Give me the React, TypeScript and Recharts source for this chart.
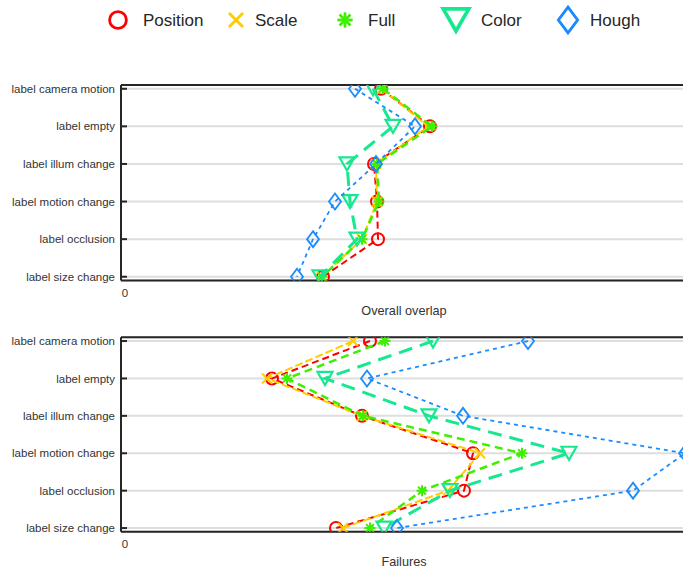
import React from 'react';
import { ScatterChart, Scatter, XAxis, YAxis, CartesianGrid, ReferenceLine } from 'recharts';

const categories = [
  'label camera motion',
  'label empty',
  'label illum change',
  'label motion change',
  'label occlusion',
  'label size change',
];

const seriesNames = ['Position', 'Scale', 'Full', 'Color', 'Hough'];

// Overall overlap panel
const overlapPosition = [256, 305, 249, 252, 253, 198];
const overlapScale = [257, 303, 251, 252, 237, 197];
const overlapFull = [258, 307, 252, 254, 237, 197];
const overlapColor = [248, 268, 222, 225, 232, 195];
const overlapHough = [230, 290, 251, 210, 188, 172];

// Failures panel
const failPosition = [245, 147, 237, 348, 339, 211];
const failScale = [228, 142, 237, 355, 323, 218];
const failFull = [260, 162, 238, 397, 297, 245];
const failColor = [308, 200, 304, 444, 325, 259];
const failHough = [403, 242, 338, 560, 508, 272];

const xTicks = [0];
const yTicks = [0, 1, 2, 3, 4, 5];

const FONT = '"Liberation Sans", Arial, Helvetica, sans-serif';

type Kind = 'circle' | 'x' | 'asterisk' | 'triangle' | 'diamond';

const styles: { kind: Kind; color: string; width: number; dash: string }[] = [
  { kind: 'circle', color: '#ff0000', width: 2, dash: '7 4' },
  { kind: 'x', color: '#ffcc00', width: 2, dash: '8 3' },
  { kind: 'asterisk', color: '#3cf000', width: 2.5, dash: '8 5' },
  { kind: 'triangle', color: '#17e890', width: 3, dash: '14 8' },
  { kind: 'diamond', color: '#1a8cff', width: 1.8, dash: '4 4' },
];

function Marker({ kind, cx, cy, color, s }: { kind: Kind; cx: number; cy: number; color: string; s: number }) {
  if (kind === 'circle') {
    return <circle cx={cx} cy={cy} r={6 * s} fill="none" stroke={color} strokeWidth={2 * s} />;
  }
  if (kind === 'x') {
    const d = 5 * s;
    return (
      <g stroke={color} strokeWidth={2 * s}>
        <line x1={cx - d} y1={cy - d} x2={cx + d} y2={cy + d} />
        <line x1={cx - d} y1={cy + d} x2={cx + d} y2={cy - d} />
      </g>
    );
  }
  if (kind === 'asterisk') {
    const d = 5.5 * s;
    const e = d * 0.707;
    return (
      <g stroke={color} strokeWidth={2 * s}>
        <line x1={cx - d} y1={cy} x2={cx + d} y2={cy} />
        <line x1={cx} y1={cy - d} x2={cx} y2={cy + d} />
        <line x1={cx - e} y1={cy - e} x2={cx + e} y2={cy + e} />
        <line x1={cx - e} y1={cy + e} x2={cx + e} y2={cy - e} />
      </g>
    );
  }
  if (kind === 'triangle') {
    const w = 7.5 * s;
    const h = 6.5 * s;
    return (
      <polygon
        points={`${cx - w},${cy - h} ${cx + w},${cy - h} ${cx},${cy + h}`}
        fill="none"
        stroke={color}
        strokeWidth={2.2 * s}
        strokeLinejoin="miter"
      />
    );
  }
  const w = 6 * s;
  const h = 8 * s;
  return (
    <polygon
      points={`${cx},${cy - h} ${cx + w},${cy} ${cx},${cy + h} ${cx - w},${cy}`}
      fill="none"
      stroke={color}
      strokeWidth={1.8 * s}
    />
  );
}

const YTick = (props: any) => {
  const { x, y, payload } = props;
  return (
    <g>
      <text x={x} y={y} dy="0.355em" textAnchor="end" fontSize={11.5} fill="#333" fontFamily={FONT}>
        {categories[payload.value]}
      </text>
      <line x1={x + 6} x2={x + 12} y1={y} y2={y} stroke="#262626" strokeWidth={2} />
    </g>
  );
};

function Panel({
  values,
  title,
  top,
  height,
  marginTop,
  marginBottom,
}: {
  values: number[][];
  title: string;
  top: number;
  height: number;
  marginTop: number;
  marginBottom: number;
}) {
  return (
    <div style={{ position: 'absolute', left: 0, top, width: 700, height }}>
      <ScatterChart
        width={700}
        height={height}
        margin={{ top: marginTop, right: 13, bottom: marginBottom, left: 0 }}
      >
        <CartesianGrid horizontal vertical={false} stroke="#dedede" strokeWidth={2} />
        <XAxis
          type="number"
          dataKey="x"
          domain={[-4, 562]}
          ticks={xTicks}
          allowDataOverflow
          height={20}
          tickSize={4}
          tickMargin={4}
          tickLine={false}
          axisLine={{ stroke: '#262626', strokeWidth: 2 }}
          tick={{ fontSize: 11.5, fill: '#333', fontFamily: FONT }}
          label={{ value: title, position: 'bottom', offset: 5, fontSize: 12.7, fill: '#333', fontFamily: FONT }}
        />
        <YAxis
          type="number"
          dataKey="y"
          domain={[-0.1, 5.1]}
          ticks={yTicks}
          reversed
          allowDataOverflow
          width={121}
          tickSize={6}
          tickMargin={0}
          tickLine={false}
          axisLine={{ stroke: '#262626', strokeWidth: 2 }}
          tick={<YTick />}
          interval={0}
        />
        <ReferenceLine y={-0.1} stroke="#262626" strokeWidth={2} />
        {values.map((vals, si) => {
          const st = styles[si];
          const data = vals.map((v, i) => ({ x: v, y: i }));
          return (
            <Scatter
              key={seriesNames[si]}
              name={seriesNames[si]}
              data={data}
              isAnimationActive={false}
              lineType="joint"
              line={{ stroke: st.color, strokeWidth: st.width, strokeDasharray: st.dash, fill: 'none' }}
              shape={(p: any) => <Marker kind={st.kind} cx={p.cx} cy={p.cy} color={st.color} s={1} />}
            />
          );
        })}
      </ScatterChart>
    </div>
  );
}

const legendMarkerX = [118, 236, 345, 456, 568];
const legendTextX = [143, 255, 368, 481, 590];

function Legend() {
  return (
    <div style={{ position: 'absolute', left: 0, top: 0, width: 683, height: 40 }}>
      <svg width={683} height={40} style={{ position: 'absolute', left: 0, top: 0 }}>
        {styles.map((st, i) => (
          <Marker key={i} kind={st.kind} cx={legendMarkerX[i]} cy={20} color={st.color} s={st.kind === 'triangle' ? 1.7 : st.kind === 'diamond' ? 1.6 : st.kind === 'circle' ? 1.4 : 1.4} />
        ))}
        {seriesNames.map((n, i) => (
          <text key={n} x={legendTextX[i]} y={20} dy="0.355em" fontSize={17} fill="#262626" fontFamily={FONT}>
            {n}
          </text>
        ))}
      </svg>
    </div>
  );
}

export default function App() {
  return (
    <div
      style={{
        position: 'absolute',
        left: 0,
        top: 0,
        width: 683,
        height: 570,
        overflow: 'hidden',
        background: '#fff',
        fontFamily: FONT,
      }}
    >
      <Legend />
      <Panel
        values={[overlapPosition, overlapScale, overlapFull, overlapColor, overlapHough]}
        title="Overall overlap"
        top={60}
        height={260}
        marginTop={25}
        marginBottom={19.5}
      />
      <Panel
        values={[failPosition, failScale, failFull, failColor, failHough]}
        title="Failures"
        top={320}
        height={250}
        marginTop={17.3}
        marginBottom={18.2}
      />
    </div>
  );
}
